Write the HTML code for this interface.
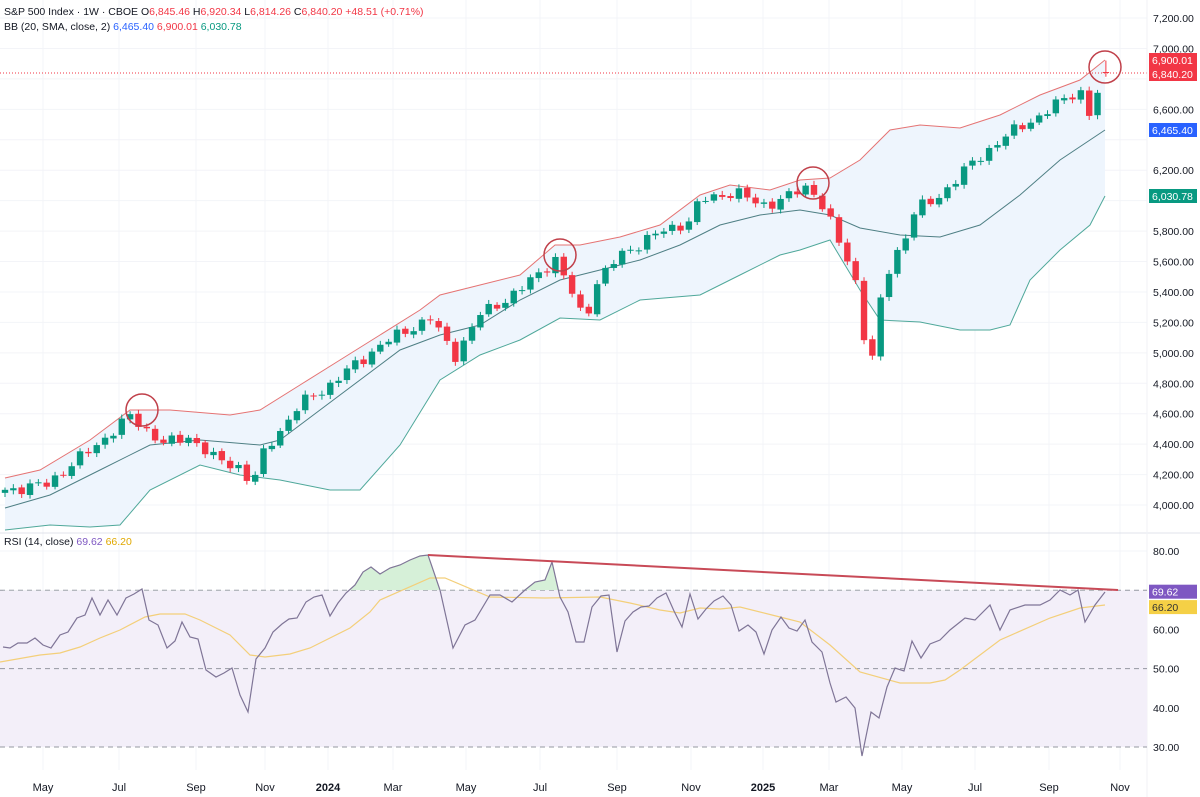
<!DOCTYPE html>
<html><head><meta charset="utf-8"><style>
html,body{margin:0;padding:0;background:#fff;}
svg{display:block;font-family:"Liberation Sans",sans-serif;}
</style></head><body>
<svg id="s" width="1200" height="797" viewBox="0 0 1200 797" xmlns="http://www.w3.org/2000/svg"></svg>
<script>
const S=document.getElementById('s');let h='';
const py=p=>18+(7200-p)*0.1522;
const ry=r=>551+(80-r)*3.92;
const months=[[43,'May'],[119,'Jul'],[196,'Sep'],[265,'Nov'],[328,'2024'],[393,'Mar'],[466,'May'],[540,'Jul'],[617,'Sep'],[691,'Nov'],[763,'2025'],[829,'Mar'],[902,'May'],[975,'Jul'],[1049,'Sep'],[1120,'Nov']];
months.forEach(m=>{h+=`<line x1="${m[0]}" y1="0" x2="${m[0]}" y2="770" stroke="#f3f4f8" stroke-width="1"/>`;});
for(let p=4000;p<=7200;p+=200){h+=`<line x1="0" y1="${py(p)}" x2="1147" y2="${py(p)}" stroke="#f3f4f8"/>`;}
[80,60,40].forEach(r=>{h+=`<line x1="0" y1="${ry(r)}" x2="1147" y2="${ry(r)}" stroke="#f3f4f8"/>`;});
const up=[[5,478],[40,470],[90,440],[130,410],[170,410],[230,415],[260,410],[300,385],[340,360],[380,335],[420,310],[440,295],[480,285],[520,275],[555,245],[580,245],[620,237],[660,225],[700,195],[730,185],[770,190],[800,180],[830,178],[860,160],[890,130],[920,125],[960,128],[1000,115],[1040,95],[1080,80],[1105,60]];
const mid=[[5,508],[50,495],[100,470],[150,445],[200,440],[260,445],[280,440],[320,410],[360,380],[400,350],[440,335],[480,325],[520,300],[560,280],[600,270],[640,260],[680,245],[720,225],[760,215],[800,210],[830,215],[860,228],[900,235],[940,237],[980,225],[1020,195],[1060,160],[1105,130]];
const lo=[[5,530],[50,525],[90,527],[120,525],[150,490],[200,465],[240,475],[280,480],[330,490],[360,490],[400,445],[440,380],[480,355],[520,340],[560,318],[600,320],[640,300],[700,295],[740,275],[780,255],[800,250],[830,240],[860,290],[880,320],[920,322],[960,330],[990,330],[1010,325],[1030,280],[1060,250],[1090,225],[1105,196]];
const pts=a=>a.map(p=>p.join(',')).join(' ');
h+=`<polygon points="${pts(up)} ${pts(lo.slice().reverse())}" fill="#eef5fd"/>`;
h+=`<polyline points="${pts(up)}" fill="none" stroke="#e57373" stroke-width="1"/>`;
h+=`<polyline points="${pts(mid)}" fill="none" stroke="#4e7f84" stroke-width="1"/>`;
h+=`<polyline points="${pts(lo)}" fill="none" stroke="#4fa89a" stroke-width="1"/>`;
const kp=[[5,4100],[45,4130],[90,4360],[130,4580],[165,4400],[190,4450],[215,4300],[240,4250],[252,4130],[265,4360],[300,4660],[330,4790],[380,5050],[430,5230],[455,4980],[480,5250],[520,5410],[555,5620],[575,5350],[585,5200],[595,5450],[620,5640],[650,5760],[690,5870],[700,6000],[735,6060],[760,5970],[780,6000],[810,6100],[825,5940],[840,5710],[855,5500],[865,5080],[873,4950],[882,5400],[892,5600],[905,5760],[915,5940],[935,6000],[960,6170],[1000,6400],[1040,6560],[1080,6730],[1090,6560],[1105,6840]];
function interp(x){for(let i=0;i<kp.length-1;i++){if(x<=kp[i+1][0]){const t=(x-kp[i][0])/(kp[i+1][0]-kp[i][0]);return kp[i][1]+t*(kp[i+1][1]-kp[i][1]);}}return kp[kp.length-1][1];}
let prev=4080;
for(let i=0;i<133;i++){const x=5+i*8.34;let c=interp(x)+28*Math.sin(i*2.3)+18*Math.sin(i*5.1);if(i==132)c=6840;let o=prev+6*Math.sin(i*3.7);
 let hi=Math.max(o,c)+15+12*Math.abs(Math.sin(i*1.7)),l=Math.min(o,c)-15-12*Math.abs(Math.cos(i*2.9));
 if(i==132){o=6845;hi=6920;l=6814;}
 const g=c>=o,col=g?'#089981':'#f23645';
 h+=`<line x1="${x}" y1="${py(hi)}" x2="${x}" y2="${py(l)}" stroke="${col}" stroke-width="1"/>`;
 const t=py(Math.max(o,c)),b=py(Math.min(o,c));
 h+=`<rect x="${x-3.2}" y="${t}" width="6.4" height="${Math.max(1,b-t)}" fill="${col}"/>`;prev=c;}
h+=`<line x1="0" y1="73" x2="1147" y2="73" stroke="#f23645" stroke-dasharray="1,2" stroke-width="1"/>`;
[[142,410],[560,255],[813,183],[1105,67]].forEach(c=>{h+=`<circle cx="${c[0]}" cy="${c[1]}" r="16" fill="none" stroke="#c0404a" stroke-width="1.5"/>`;});
h+=`<line x1="0" y1="533" x2="1200" y2="533" stroke="#e0e3eb"/>`;
h+=`<line x1="1147" y1="0" x2="1147" y2="797" stroke="#f0f2f6"/>`;
h+=`<rect x="0" y="${ry(70)}" width="1147" height="${ry(30)-ry(70)}" fill="#f3eff9"/>`;
[70,50,30].forEach(r=>{h+=`<line x1="0" y1="${ry(r)}" x2="1147" y2="${ry(r)}" stroke="#9598a1" stroke-dasharray="5,4" stroke-width="1"/>`;});
const rsi=[[3,647],[10,648],[18,643],[27,643],[35,638],[43,645],[51,648],[60,635],[68,632],[77,618],[85,615],[92,598],[100,615],[108,600],[117,615],[126,598],[134,594],[142,589],[149,620],[158,625],[167,648],[175,641],[182,622],[190,637],[198,639],[206,670],[216,677],[224,673],[232,668],[240,695],[248,712],[256,659],[265,648],[273,632],[282,624],[289,619],[297,618],[306,602],[314,597],[322,595],[330,616],[338,603],[346,593],[355,585],[363,572],[371,567],[380,574],[390,568],[400,565],[410,560],[420,556],[428,555],[440,590],[453,648],[465,625],[475,620],[490,595],[500,595],[512,602],[525,590],[535,582],[545,580],[552,562],[560,597],[568,612],[576,642],[584,642],[592,607],[601,596],[609,595],[617,652],[625,621],[633,612],[641,607],[649,606],[657,598],[666,593],[674,611],[682,627],[690,594],[698,619],[706,609],[714,601],[723,596],[731,605],[739,631],[748,625],[756,632],[764,654],[772,630],[781,617],[789,628],[797,631],[805,620],[812,642],[822,652],[830,683],[836,702],[846,697],[855,708],[862,756],[871,712],[879,718],[887,687],[895,668],[904,671],[912,641],[921,658],[930,644],[940,640],[950,630],[965,618],[975,620],[990,605],[1000,630],[1010,610],[1025,605],[1040,605],[1050,600],[1060,590],[1070,595],[1078,590],[1085,622],[1095,605],[1105,592]];
const ma=[[0,662],[40,655],[60,653],[80,647],[100,638],[120,630],[145,617],[160,614],[185,614],[200,620],[230,635],[250,655],[265,657],[290,654],[310,648],[330,638],[350,628],[370,612],[380,600],[430,578],[445,578],[490,597],[545,598],[600,597],[630,603],[660,610],[680,613],[700,608],[720,609],[740,607],[780,617],[800,622],[830,645],[860,672],[900,683],[930,683],[945,680],[960,670],[1000,640],[1050,618],[1080,608],[1105,605]];
h+=`<defs><clipPath id="ob"><rect x="0" y="540" width="1147" height="${ry(70)-540}"/></clipPath></defs>`;
h+=`<polygon clip-path="url(#ob)" points="3,${ry(70)} ${pts(rsi)} 1105,${ry(70)}" fill="#d6f0d8"/>`;
h+=`<polyline points="${pts(ma)}" fill="none" stroke="#f3cf7a" stroke-width="1.2"/>`;
h+=`<polyline points="${pts(rsi)}" fill="none" stroke="#7f7597" stroke-width="1.2"/>`;
h+=`<line x1="428" y1="555" x2="1118" y2="590" stroke="#c84a57" stroke-width="2"/>`;
const fmt=p=>p.toLocaleString('en-US')+'.00';
for(let p=4000;p<=7200;p+=200){if([6800,6400,6000].includes(p))continue;h+=`<text x="1153" y="${py(p)+4}" font-size="10.5" fill="#131722">${fmt(p)}</text>`;}
[80,60,50,40,30].forEach(r=>{h+=`<text x="1153" y="${ry(r)+4}" font-size="10.5" fill="#131722">${r}.00</text>`;});
function tag(y,t,c,tc){h+=`<rect x="1149" y="${y-7}" width="48" height="14" fill="${c}"/><text x="1152" y="${y+4}" font-size="10.5" fill="${tc||'#fff'}">${t}</text>`;}
tag(60,'6,900.01','#f23645');tag(74,'6,840.20','#f23645');tag(130,'6,465.40','#2962ff');tag(196,'6,030.78','#089981');
tag(ry(69.62),'69.62','#7e57c2');tag(ry(66.2)+2,'66.20','#f5d046','#333');
months.forEach(m=>{h+=`<text x="${m[0]}" y="791" font-size="11" fill="#131722" text-anchor="middle" ${m[1].length==4?'font-weight="bold"':''}>${m[1]}</text>`;});
h+=`<text x="4" y="15" font-size="10.5" fill="#131722">S&amp;P 500 Index · 1W · CBOE  <tspan fill="#131722">O</tspan><tspan fill="#f23645">6,845.46</tspan> H<tspan fill="#f23645">6,920.34</tspan> L<tspan fill="#f23645">6,814.26</tspan> C<tspan fill="#f23645">6,840.20 +48.51 (+0.71%)</tspan></text>`;
h+=`<text x="4" y="30" font-size="10.5" fill="#131722">BB (20, SMA, close, 2) <tspan fill="#2962ff">6,465.40</tspan> <tspan fill="#f23645">6,900.01</tspan> <tspan fill="#089981">6,030.78</tspan></text>`;
h+=`<text x="4" y="545" font-size="10.5" fill="#131722">RSI (14, close) <tspan fill="#7e57c2">69.62</tspan> <tspan fill="#e0a800">66.20</tspan></text>`;
S.innerHTML=h;
</script>
</body></html>
